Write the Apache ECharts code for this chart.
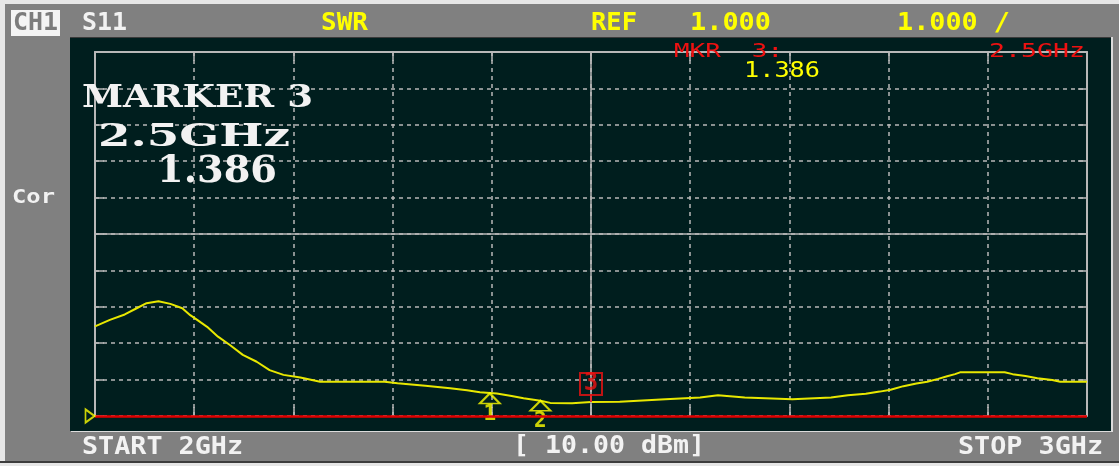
<!DOCTYPE html>
<html><head><meta charset="utf-8">
<script src="https://cdn.jsdelivr.net/npm/echarts@6/dist/echarts.min.js"></script>
<style>html,body{margin:0;padding:0;background:#e6e6e6}#c{width:1119px;height:466px}</style>
</head><body><div id="c"></div>
<script>
// ---- data ----
const freqGHz = [2.000,2.015,2.030,2.042,2.052,2.064,2.076,2.088,2.096,2.103,2.113,2.124,2.136,2.149,2.163,2.176,2.190,2.207,2.227,2.292,2.305,2.333,2.358,2.375,2.388,2.405,2.420,2.432,2.449,2.459,2.481,2.500,2.529,2.575,2.610,2.628,2.655,2.703,2.742,2.759,2.777,2.791,2.802,2.815,2.828,2.839,2.850,2.859,2.867,2.872,2.917,2.925,2.938,2.950,2.965,2.973,3.000];
const swr = [3.46,3.64,3.79,3.96,4.10,4.15,4.08,3.96,3.77,3.64,3.45,3.18,2.95,2.68,2.49,2.26,2.13,2.06,1.94,1.94,1.90,1.83,1.76,1.71,1.65,1.62,1.55,1.49,1.42,1.36,1.35,1.386,1.39,1.46,1.51,1.57,1.51,1.46,1.51,1.57,1.61,1.67,1.72,1.82,1.89,1.94,2.02,2.09,2.15,2.20,2.20,2.15,2.10,2.04,1.99,1.94,1.94];
const markerIds = ['1', '2', '3'];
const markerFreqGHz = [2.398, 2.449, 2.5];
const markerSwr = [1.62, 1.42, 1.386];
const startGHz = 2, stopGHz = 3, freqStep = 0.1;
const refSwr = 1, swrPerDiv = 1, swrTop = 11;

// ---- texts ----
const topTexts = ['CH1', 'S11', 'SWR', 'REF', '1.000', '1.000 /'];
const bottomTexts = ['START 2GHz', '[ 10.00 dBm]', 'STOP 3GHz'];
const bigTexts = ['MARKER 3', '2.5GHz', '1.386'];
const mkrTexts = ['MKR  3:', '2.5GHz', '1.386'];

const ctx = document.createElement('canvas').getContext('2d');
function T(text, x, y, font, color, targetW, align) {
  ctx.font = font;
  const w = ctx.measureText(text).width;
  return {
    type: 'text', x: x, y: y, z: 100, scaleX: targetW ? targetW / w : 1,
    style: { text: text, fill: color, font: font, align: align || 'left', verticalAlign: 'middle',
             textAlign: align || 'left', textVerticalAlign: 'middle' }
  };
}
const MONO = '"DejaVu Sans Mono"';
const SERIF = '"DejaVu Serif"';
const YEL = '#ffff00', RED = '#ee1111', WHITE = '#f2f2f2';
const fTop = 'bold 25px ' + MONO, fBot = 'bold 24px ' + MONO;

const graphic = [
  { type: 'rect', z: -20, shape: { x: 5, y: 4, width: 1114, height: 457 }, style: { fill: '#808080' } },
  { type: 'rect', z: -19, shape: { x: 0, y: 461, width: 1119, height: 2 }, style: { fill: '#3c3c3c' } },
  { type: 'rect', z: -18, shape: { x: 71, y: 37, width: 1042, height: 395 }, style: { fill: '#dcdcdc' } },
  { type: 'rect', z: -17, shape: { x: 70, y: 37, width: 1041, height: 394 }, style: { fill: '#001e1e' } },
  { type: 'rect', z: -16, shape: { x: 70, y: 37, width: 1041, height: 1 }, style: { fill: '#3a3a3a' } },
  { type: 'rect', z: 50, shape: { x: 11, y: 10, width: 49, height: 26 }, style: { fill: '#f4f4f4' } },
  T(topTexts[0], 13, 23, fTop, '#7c7c7c', 45),
  T(topTexts[1], 82, 23, fTop, WHITE, 45),
  T(topTexts[2], 321, 23, fTop, YEL, 47),
  T(topTexts[3], 591, 23, fTop, YEL, 46),
  T(topTexts[4], 690, 23, fTop, YEL, 81),
  T(topTexts[5], 897, 23, fTop, YEL, 113),
  T(bottomTexts[0], 82, 448, fBot, WHITE, 161),
  T(bottomTexts[1], 513, 447, fBot, WHITE, 192),
  T(bottomTexts[2], 1103, 448, fBot, WHITE, 145, 'right'),
  T('Cor', 12, 198, 'bold 20px ' + MONO, WHITE, 43),
  T(bigTexts[0], 82, 99, 'bold 32px ' + SERIF, WHITE, 231),
  T(bigTexts[1], 98, 138, 'bold 32px ' + SERIF, WHITE, 192),
  T(bigTexts[2], 157, 172, 'bold 38px ' + SERIF, WHITE, 120),
  T(mkrTexts[0], 674, 52, '19px ' + MONO, RED, 109),
  T(mkrTexts[1], 989, 52, '19px ' + MONO, RED, 96),
  T(mkrTexts[2], 744, 71, '22px ' + MONO, YEL, 76)
];

const GRID = '#b8b8b8';
const dash = { color: GRID, width: 1.5, type: [4, 4] };
const frameAxisX = (pos, showLine) => ({
  type: 'value', position: pos, min: startGHz, max: stopGHz, interval: freqStep,
  axisLine: { show: showLine, lineStyle: { color: GRID, width: 2 } },
  axisTick: { show: true, inside: true, length: 9, lineStyle: { color: GRID, width: 1.5 } },
  axisLabel: { show: false },
  splitLine: { show: pos === 'bottom', lineStyle: dash }
});
const frameAxisY = (pos) => ({
  type: 'value', position: pos, min: refSwr, max: swrTop, interval: swrPerDiv,
  axisLine: { show: true, onZero: false, lineStyle: { color: GRID, width: 2 } },
  axisTick: { show: true, inside: true, length: 9, lineStyle: { color: GRID, width: 1.5 } },
  axisLabel: { show: false },
  splitLine: { show: pos === 'left', lineStyle: dash }
});

const trace = freqGHz.map((f, i) => [f, swr[i]]);
const mk12 = [0, 1].map(i => ({ value: [markerFreqGHz[i], markerSwr[i]], name: markerIds[i] }));
const mk3 = [{ value: [markerFreqGHz[2], markerSwr[2]], name: markerIds[2] }];
const CLEAR = 'rgba(0,0,0,0)';

const chart = echarts.init(document.getElementById('c'), null, { renderer: 'canvas' });
chart.setOption({
  backgroundColor: '#e6e6e6',
  animation: false,
  graphic: graphic,
  grid: { left: 95, right: 32, top: 52, bottom: 50, containLabel: false },
  xAxis: [frameAxisX('bottom', false), frameAxisX('top', true)],
  yAxis: [frameAxisY('left'), frameAxisY('right')],
  series: [
    { type: 'line', data: [], silent: true, z: 1,
      markLine: { silent: true, symbol: 'none', label: { show: false }, animation: false,
        data: [
          { xAxis: (startGHz + stopGHz) / 2, lineStyle: { color: GRID, width: 1.5, type: 'solid' } },
          { yAxis: (refSwr + swrTop) / 2, lineStyle: { color: GRID, width: 1.5, type: 'solid' } },
          { yAxis: refSwr, lineStyle: { color: '#e00000', width: 2.5, type: 'solid' } }
        ] } },
    { type: 'line', data: trace, clip: false, showSymbol: false, symbol: 'none', z: 3,
      lineStyle: { color: '#e8e800', width: 2 } },
    { type: 'scatter', data: mk12, clip: false, z: 4, symbol: 'triangle', symbolSize: [20, 10], symbolOffset: [0, 5],
      itemStyle: { color: CLEAR, borderColor: YEL, borderWidth: 2 },
      label: { show: true, position: 'bottom', distance: 0, formatter: p => p.name, color: YEL,
               fontSize: 21, fontWeight: 'bold', fontFamily: 'DejaVu Sans Mono' } },
    { type: 'scatter', data: mk3, clip: false, z: 5, symbol: 'rect', symbolSize: [2, 8], symbolOffset: [0, -4],
      itemStyle: { color: RED } },
    { type: 'scatter', data: mk3, clip: false, z: 5, symbol: 'rect', symbolSize: [22, 22], symbolOffset: [0, -18],
      itemStyle: { color: CLEAR, borderColor: RED, borderWidth: 2 },
      label: { show: true, position: 'inside', formatter: p => p.name, color: RED,
               fontSize: 24, fontWeight: 'bold', fontFamily: 'DejaVu Sans Mono' } },
    { type: 'scatter', data: [[startGHz, refSwr]], clip: false, z: 5, symbol: 'triangle', symbolSize: [13, 9],
      symbolRotate: -90, symbolOffset: [-5, 0], itemStyle: { color: CLEAR, borderColor: YEL, borderWidth: 2 } }
  ]
});
</script>
</body></html>
